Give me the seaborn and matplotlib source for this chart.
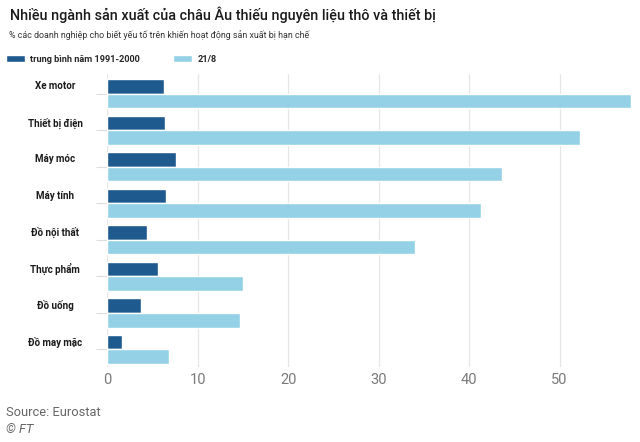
import matplotlib
matplotlib.use("Agg")
import matplotlib.pyplot as plt
import seaborn as sns
import pandas as pd

categories = ["Xe motor", "Thiết bị điện", "Máy móc", "Máy tính", "Đồ nội thất",
              "Thực phẩm", "Đồ uống", "Đồ may mặc"]
avg_1991_2000 = [6.3, 6.4, 7.6, 6.5, 4.4, 5.6, 3.7, 1.6]
aug_21 = [57.9, 52.2, 43.6, 41.3, 34.0, 15.0, 14.7, 6.8]
series_names = ["trung bình năm 1991-2000", "21/8"]
x_ticks = [0, 10, 20, 30, 40, 50]

df = pd.DataFrame({
    "cat": categories * 2,
    "val": avg_1991_2000 + aug_21,
    "series": [series_names[0]] * len(categories) + [series_names[1]] * len(categories),
})

sns.set_theme(style="white")
FONT = ["Roboto", "DejaVu Sans"]
plt.rcParams["font.family"] = FONT

DARK = "#1f5a8e"
LIGHT = "#95d1e6"

fig = plt.figure(figsize=(6.4, 4.42), dpi=100)
fig.patch.set_facecolor("white")
ax = fig.add_axes([0.1677, 0.1697, 0.9875 - 0.1677, 0.8326 - 0.1697])

sns.barplot(data=df, y="cat", x="val", hue="series", orient="h",
            palette=[DARK, LIGHT], order=categories, hue_order=series_names,
            width=0.8, saturation=1, ax=ax, legend=True)

ax.set_xlim(0, 58)
ax.set_ylim(7.48, -0.54)
ax.set_xticks(x_ticks)
ax.set_xticklabels([str(t) for t in x_ticks], color="#7a7a7a", fontsize=10.5,
                   fontweight="normal")
ax.grid(axis="x", color="#e6e6e6", linewidth=0.9)
ax.set_axisbelow(True)
for s in ax.spines.values():
    s.set_visible(False)
ax.set_xlabel("")
ax.set_ylabel("")
ax.tick_params(axis="x", length=0, pad=4)
ax.tick_params(axis="y", length=8, width=0.8, color="#dddddd", pad=0, left=True)
ax.set_yticklabels([])
for i, c in enumerate(categories):
    ax.annotate(c, xy=(55 / 640, i - 0.2), xycoords=("figure fraction", "data"),
                ha="center", va="center", fontsize=7, fontweight="bold",
                color="#1a1a1a")

handles, labels = ax.get_legend_handles_labels()
ax.get_legend().remove()
fig.legend(handles, labels, loc="center left", bbox_to_anchor=(6 / 640, 1 - 59.5 / 442),
           ncol=2, frameon=False, handlelength=2.1, handleheight=0.85,
           handletextpad=0.55, columnspacing=3.6, borderpad=0, borderaxespad=0,
           prop={"weight": "bold", "size": 6.6, "family": FONT})

fig.text(10 / 640, 1 - 15 / 442, "Nhiều ngành sản xuất của châu Âu thiếu nguyên liệu thô và thiết bị",
         fontsize=10.4, fontweight="medium", color="#1a1a1a", va="center", ha="left")
fig.text(9 / 640, 1 - 35 / 442, "% các doanh nghiệp cho biết yếu tố trên khiến hoạt động sản xuất bị hạn chế",
         fontsize=6.4, color="#333333", va="center", ha="left")
fig.text(6 / 640, 1 - 413 / 442, "Source: Eurostat", fontsize=9.3, color="#666666",
         va="center", ha="left", fontweight="normal")
fig.text(6 / 640, 1 - 429.5 / 442, "© FT", fontsize=9.3, color="#666666",
         va="center", ha="left", style="italic", fontweight="normal")

fig.savefig("out.png", dpi=100, facecolor="white")
